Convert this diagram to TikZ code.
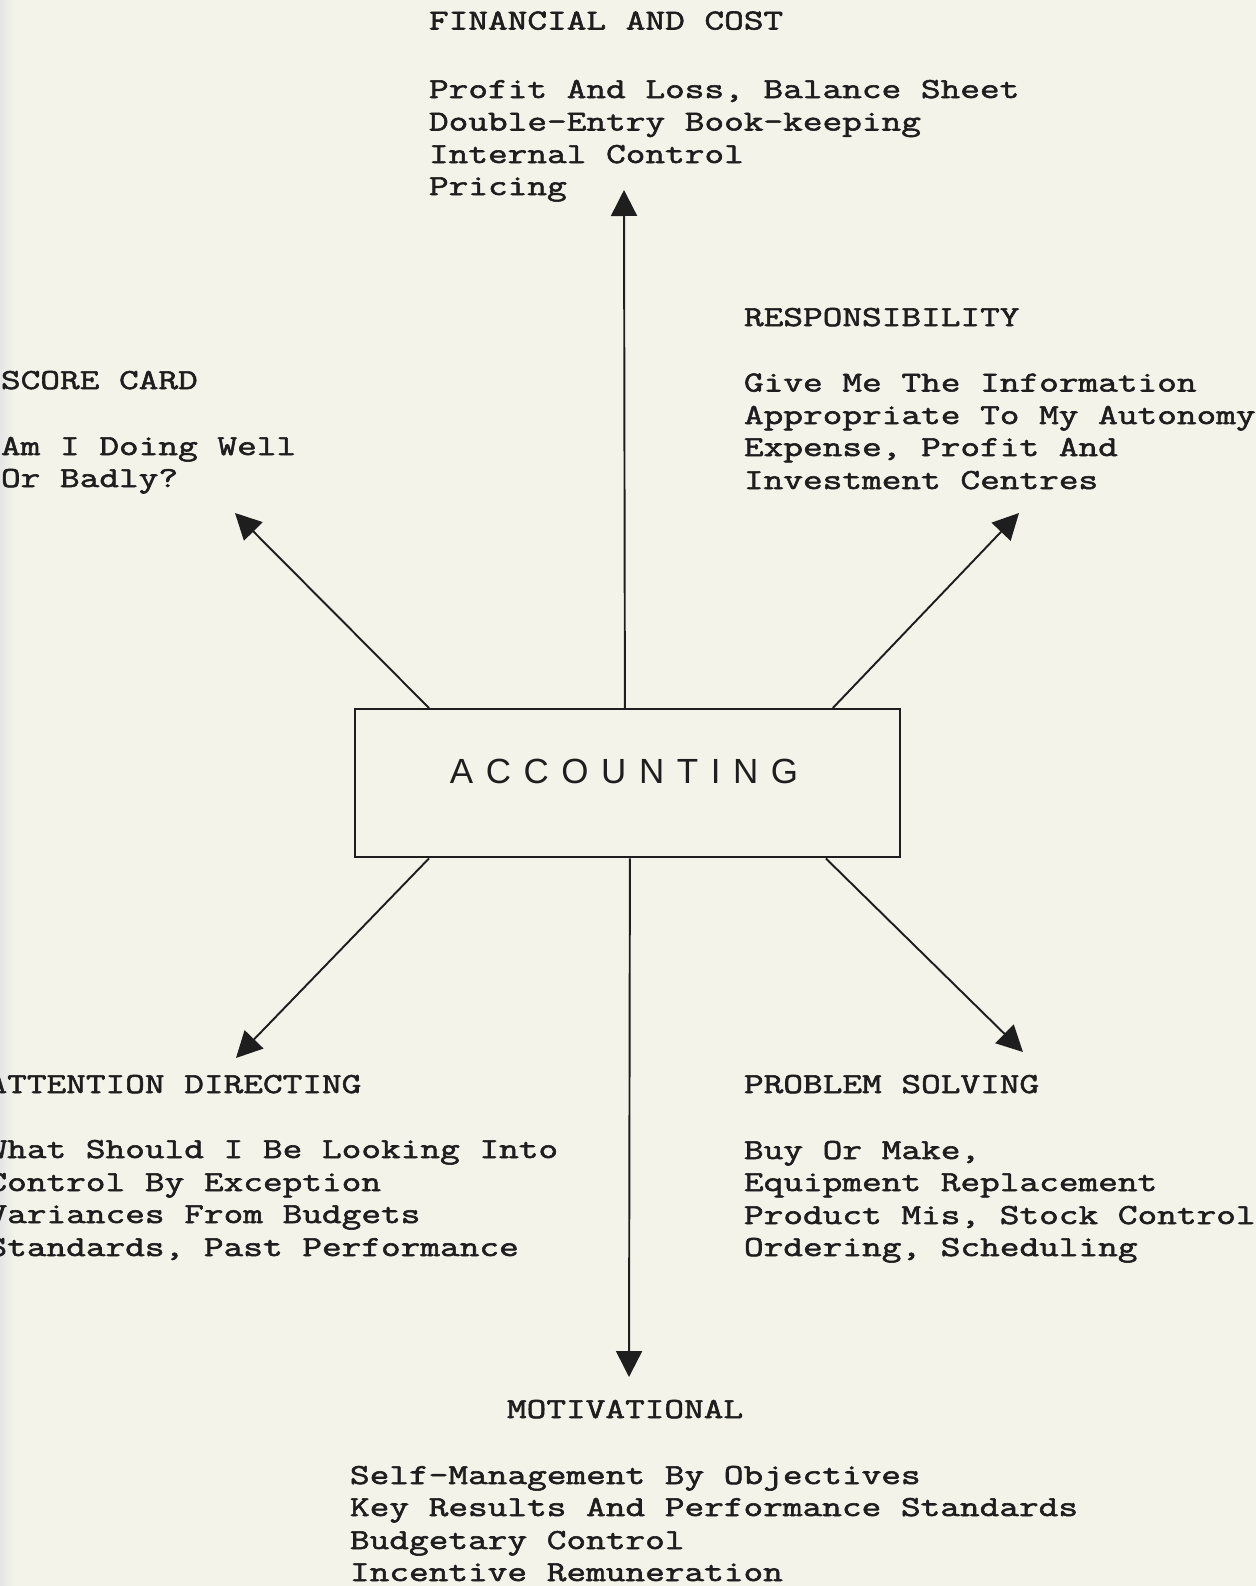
\documentclass[tikz,border=0pt]{standalone}
\usepackage{fontspec}
\setmonofont[FakeBold=2,FakeStretch=1.318]{Latin Modern Mono}
\newfontfamily\handfont[LetterSpace=36]{Liberation Sans}
\usetikzlibrary{arrows.meta}
\definecolor{paper}{HTML}{F3F3EA}
\definecolor{ink}{HTML}{1E1E1E}

\begin{document}
\begin{tikzpicture}[x=0.02cm,y=-0.02cm,
  txt/.style={anchor=base west,inner sep=0,outer sep=0,
    font=\fontsize{16.5}{32.4}\selectfont\ttfamily,text=ink},
  link/.style={draw=ink,line width=1.1pt,-{Triangle[length=0.52cm,width=0.52cm]}},
  hub/.style={draw=ink,line width=1.1pt,minimum width=10.9cm,minimum height=2.97cm,
    inner sep=0,anchor=north west}]
\fill[paper] (0,0) rectangle (1256,1586);
\useasboundingbox (0,0) rectangle (1256,1586);
\clip (0,0) rectangle (1256,1586);
\shade[left color=black!10,right color=paper] (0,0) rectangle (14,1586);

% central box
\node[hub] (acc) at (354,708) {};
\node[anchor=base,inner sep=0,text=ink,font=\fontsize{19.9}{24}\handfont] (acclabel) at (624,783) {ACCOUNTING};

% arrow tips
\coordinate (tipN)  at (624,190);
\coordinate (tipS)  at (629,1377);
\coordinate (tipNW) at (235,513);
\coordinate (tipNE) at (1019,513);
\coordinate (tipSW) at (236,1058);
\coordinate (tipSE) at (1023,1052);

\draw[link] ([xshift=-0.05cm]acc.north) -- (tipN);
\draw[link] ([xshift=0.05cm]acc.south) -- (tipS);
\draw[link] ([xshift=1.5cm]acc.north west) -- (tipNW);
\draw[link] ([xshift=-1.36cm]acc.north east) -- (tipNE);
\draw[link] ([xshift=1.5cm]acc.south west) -- (tipSW);
\draw[link] ([xshift=-1.5cm]acc.south east) -- (tipSE);

% financial and cost
\node[txt] (fc0) at (429,29.5) {FINANCIAL AND COST};
\node[txt] (fc1) at (429,98) {Profit And Loss, Balance Sheet};
\node[txt] (fc2) at (429,130.5) {Double-Entry Book-keeping};
\node[txt] (fc3) at (429,163) {Internal Control};
\node[txt] (fc4) at (429,195) {Pricing};

% responsibility
\node[txt] (rs0) at (744,326) {RESPONSIBILITY};
\node[txt] (rs1) at (744,391.5) {Give Me The Information};
\node[txt] (rs2) at (744,424) {Appropriate To My Autonomy};
\node[txt] (rs3) at (744,456) {Expense, Profit And};
\node[txt] (rs4) at (744,489) {Investment Centres};

% score card
\node[txt] (sc0) at (1,389) {SCORE CARD};
\node[txt] (sc1) at (1,455) {Am I Doing Well};
\node[txt] (sc2) at (1,487) {Or Badly?};

% attention directing
\node[txt] (ad0) at (-12.5,1093) {ATTENTION DIRECTING};
\node[txt] (ad1) at (-12.5,1158) {What Should I Be Looking Into};
\node[txt] (ad2) at (-12.5,1191) {Control By Exception};
\node[txt] (ad3) at (-12.5,1223) {Variances From Budgets};
\node[txt] (ad4) at (-12.5,1256) {Standards, Past Performance};

% problem solving
\node[txt] (ps0) at (744,1093) {PROBLEM SOLVING};
\node[txt] (ps1) at (744,1159) {Buy Or Make,};
\node[txt] (ps2) at (744,1191) {Equipment Replacement};
\node[txt] (ps3) at (744,1224) {Product Mis, Stock Control};
\node[txt] (ps4) at (744,1256) {Ordering, Scheduling};

% motivational
\node[txt] (mo0) at (507,1418) {MOTIVATIONAL};
\node[txt] (mo1) at (350,1484) {Self-Management By Objectives};
\node[txt] (mo2) at (350,1516) {Key Results And Performance Standards};
\node[txt] (mo3) at (350,1549) {Budgetary Control};
\node[txt] (mo4) at (350,1581) {Incentive Remuneration};
\end{tikzpicture}
\end{document}
